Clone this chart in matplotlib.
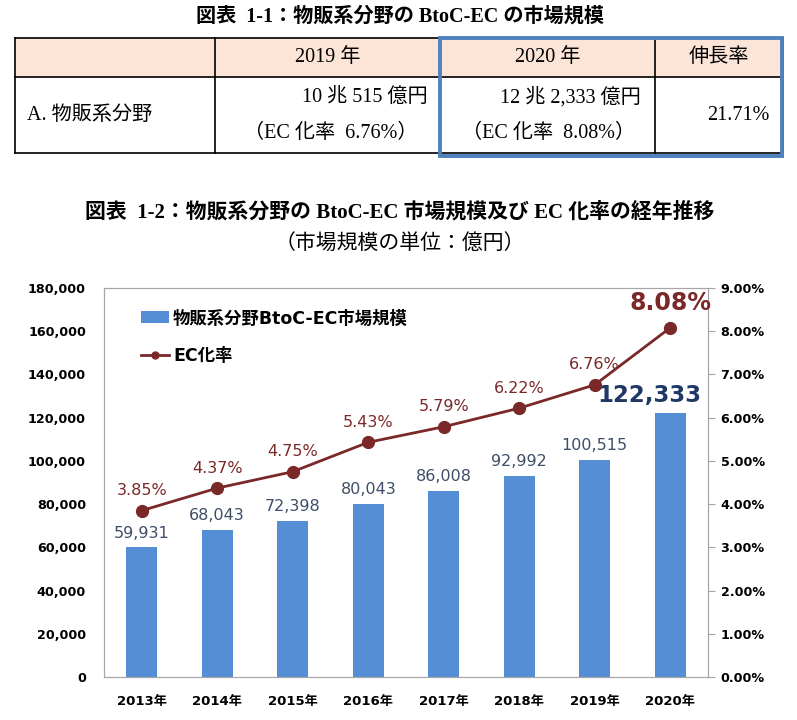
import numpy as np
import matplotlib
matplotlib.use('Agg')
import matplotlib.pyplot as plt
from matplotlib.patches import Rectangle, Patch
from matplotlib.lines import Line2D

plt.rcParams['font.family'] = ['DejaVu Sans', 'Noto Sans CJK JP']

# ── データ ──
years = ['2013年', '2014年', '2015年', '2016年', '2017年', '2018年', '2019年', '2020年']
market_size = [59931, 68043, 72398, 80043, 86008, 92992, 100515, 122333]
ec_rate = [3.85, 4.37, 4.75, 5.43, 5.79, 6.22, 6.76, 8.08]

table_header = ['', '2019 年', '2020 年', '伸長率']
table_row_label = 'A. 物販系分野'
table_2019 = ['10 兆 515 億円', '（EC 化率  6.76%）']
table_2020 = ['12 兆 2,333 億円', '（EC 化率  8.08%）']
table_growth = '21.71%'

BAR_C = '#558ED5'
LINE_C = '#7B2828'
BAR_TXT = '#3E4E66'
BIG_TXT = '#1F3864'
W, H = 797, 720

fig = plt.figure(figsize=(W / 100, H / 100), dpi=100)

def fx(px):
    return px / W

def fy(py):
    return 1 - py / H

serif_jp = ['Liberation Serif', 'Noto Sans CJK JP']
TFS = 14.5

# ── 表 1-1 ──
fig.text(fx(400), fy(17), '図表  1-1：物販系分野の BtoC-EC の市場規模', ha='center', va='center',
         fontsize=14.5, fontweight='bold', family=serif_jp)

col_x = [15, 215, 440, 655, 783]
row_y = [38, 77, 153]
fig.add_artist(Rectangle((fx(15), fy(77)), fx(783) - fx(15), fy(38) - fy(77),
                         transform=fig.transFigure, facecolor='#FCE4D6', edgecolor='none', zorder=0))
for x in col_x[1:-1]:
    fig.add_artist(Line2D([fx(x), fx(x)], [fy(38), fy(153)], color='black', lw=1.2))
for y in row_y:
    fig.add_artist(Line2D([fx(15), fx(783)], [fy(y), fy(y)], color='black', lw=1.2))
fig.add_artist(Line2D([fx(15), fx(15)], [fy(38), fy(153)], color='black', lw=1.2))
fig.add_artist(Line2D([fx(783), fx(783)], [fy(38), fy(153)], color='black', lw=1.2))
fig.add_artist(Rectangle((fx(440), fy(156)), fx(782) - fx(440), fy(38) - fy(156),
                         transform=fig.transFigure, facecolor='none', edgecolor='#4F81BD',
                         lw=2.8, zorder=5))

for i, h in enumerate(table_header):
    if h:
        cx = (col_x[i] + col_x[i + 1]) / 2
        fig.text(fx(cx), fy(58), h, ha='center', va='center', fontsize=TFS, family=serif_jp)
fig.text(fx(27), fy(115), table_row_label, ha='left', va='center', fontsize=TFS, family=serif_jp)
fig.text(fx(428), fy(97), table_2019[0], ha='right', va='center', fontsize=TFS, family=serif_jp)
fig.text(fx(418), fy(133), table_2019[1], ha='right', va='center', fontsize=TFS, family=serif_jp)
fig.text(fx(641), fy(97), table_2020[0], ha='right', va='center', fontsize=TFS, family=serif_jp)
fig.text(fx(635), fy(133), table_2020[1], ha='right', va='center', fontsize=TFS, family=serif_jp)
fig.text(fx(770), fy(115), table_growth, ha='right', va='center', fontsize=TFS, family=serif_jp)

# ── 図表 1-2 ──
fig.text(fx(400), fy(212), '図表  1-2：物販系分野の BtoC-EC 市場規模及び EC 化率の経年推移', ha='center',
         va='center', fontsize=15, fontweight='bold', family=serif_jp)
fig.text(fx(400), fy(244), '（市場規模の単位：億円）', ha='center', va='center', fontsize=15,
         family=serif_jp)

ax = fig.add_axes([fx(104), fy(677), fx(708) - fx(104), fy(288) - fy(677)])
x = np.arange(len(years))
ax.bar(x, market_size, width=0.41, color=BAR_C, zorder=2)
ax.set_xlim(-0.5, len(years) - 0.5)
ax.set_ylim(0, 180000)
ax.set_yticks(np.arange(0, 180001, 20000))
ax.set_yticklabels([f'{v:,}' for v in range(0, 180001, 20000)], fontweight='bold', fontsize=9.2)
ax.set_xticks(x)
ax.set_xticklabels(years, fontweight='bold', fontsize=9.5)
ax.tick_params(axis='y', length=0, pad=13)
ax.tick_params(axis='x', length=0, pad=13)
for s in ax.spines.values():
    s.set_color('#A6A6A6')

for i, v in enumerate(market_size):
    if i == len(market_size) - 1:
        ax.annotate(f'{v:,}', (x[i], v), xytext=(-15, 4), textcoords='offset points',
                    ha='center', va='bottom', fontsize=16.5, fontweight='bold', color=BIG_TXT)
    else:
        ax.annotate(f'{v:,}', (x[i], v), xytext=(0, 5), textcoords='offset points',
                    ha='center', va='bottom', fontsize=11.5, color=BAR_TXT)

ax2 = ax.twinx()
ax2.plot(x, ec_rate, color=LINE_C, lw=2, marker='o', markersize=8.5, zorder=3)
ax2.set_ylim(0, 9)
ax2.set_yticks(np.arange(0, 9.01, 1))
ax2.set_yticklabels([f'{v:.2f}%' for v in np.arange(0, 9.01, 1)], fontweight='bold', fontsize=9.2)
ax2.tick_params(axis='y', length=5, color='#A6A6A6', pad=4)
for s in ax2.spines.values():
    s.set_color('#A6A6A6')

for i, v in enumerate(ec_rate):
    if i == len(ec_rate) - 1:
        ax2.annotate(f'{v:.2f}%', (x[i], v), xytext=(0, 9), textcoords='offset points',
                     ha='center', va='bottom', fontsize=17, fontweight='bold', color=LINE_C)
    else:
        ax2.annotate(f'{v:.2f}%', (x[i], v), xytext=(0, 9), textcoords='offset points',
                     ha='center', va='bottom', fontsize=11.5, color=LINE_C)

handles = [Patch(facecolor=BAR_C, edgecolor='none'),
           Line2D([], [], color=LINE_C, lw=2, marker='o', markersize=5)]
ax2.legend(handles, ['物販系分野BtoC-EC市場規模', 'EC化率'], loc='upper left',
           bbox_to_anchor=(0.035, 0.985), frameon=False, labelspacing=1.15, handlelength=1.6,
           handletextpad=0.25, prop={'weight': 'bold', 'size': 12.5})

plt.savefig('out.png', dpi=100)
plt.close()
